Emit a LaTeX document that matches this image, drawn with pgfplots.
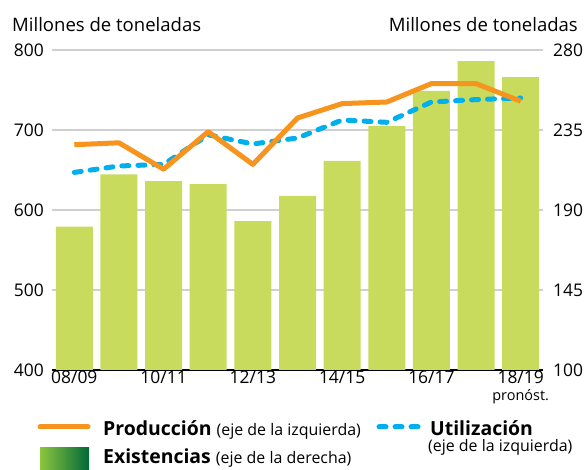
\documentclass[border=0pt]{standalone}
\usepackage{pgfplots}
\pgfplotsset{compat=1.18}
\usepackage{fontspec}
\setmainfont{Open Sans}
\definecolor{barg}{RGB}{200,219,92}
\definecolor{orng}{RGB}{247,148,29}
\definecolor{blu}{RGB}{0,176,236}
\definecolor{gridg}{RGB}{208,208,208}
\definecolor{dgA}{RGB}{141,198,63}
\definecolor{dgB}{RGB}{0,104,56}
\newcommand{\tickfont}{\fontsize{17.5}{19}\selectfont}
\newcommand{\titlefont}{\fontsize{18.6}{21}\selectfont}
\newcommand{\pronfont}{\fontsize{14.5}{15}\selectfont}
\newcommand{\legbold}{\fontsize{19.5}{22}\selectfont\bfseries}
\newcommand{\legsmall}{\fontsize{16}{18}\selectfont\mdseries}
\begin{document}
\begin{tikzpicture}
\useasboundingbox (0,0) rectangle (587bp,470bp);
% Bars: stocks (right axis)
\begin{axis}[
  at={(52bp,100bp)}, anchor=south west,
  scale only axis, width=491bp, height=320bp,
  xmin=-0.5, xmax=10.5, ymin=100, ymax=280,
  ytick={100,145,190,235,280},
  axis y line*=right, axis x line*=bottom,
  x axis line style={line width=2.5bp, black, -},
  y axis line style={draw=none},
  xtick={0,2,4,6,8,10},
  xticklabels={08/09,10/11,12/13,14/15,16/17,{18/19\\[-2bp]{\pronfont pronóst.}}},
  xticklabel style={align=center, font=\tickfont, inner sep=1bp},
  yticklabel style={font=\tickfont, inner sep=0pt, xshift=10bp},
  major tick length=0pt,
  ymajorgrids, grid style={gridg, line width=1.3bp},
  /pgf/number format/assume math mode=true,
  clip=true,
]
\addplot[ybar, bar width=37bp, fill=barg, draw=none] coordinates {
 (0,180.6) (1,210) (2,206.3) (3,204.6) (4,183.8) (5,197.9)
 (6,217.6) (7,237.3) (8,257) (9,273.8) (10,264.8)};
\end{axis}
% Lines: production and utilization (left axis)
\begin{axis}[
  at={(52bp,100bp)}, anchor=south west,
  scale only axis, width=491bp, height=320bp,
  xmin=-0.5, xmax=10.5, ymin=400, ymax=800,
  ytick={400,500,600,700,800},
  axis y line*=left, axis x line=none,
  y axis line style={draw=none},
  yticklabel style={font=\tickfont, inner sep=0pt, xshift=-8bp},
  major tick length=0pt,
  /pgf/number format/assume math mode=true,
  clip=false,
]
\addplot[blu, line width=5bp, dash pattern=on 7bp off 9bp, line cap=round, line join=round] coordinates {
 (0,647) (1,655) (2,657) (3,694) (4,682.5) (5,690)
 (6,712.5) (7,709.6) (8,735) (9,738) (10,740)};
\addplot[orng, line width=5bp, line join=round] coordinates {
 (0,681.6) (1,684) (2,651) (3,697.9) (4,657) (5,715)
 (6,733) (7,735) (8,758) (9,758) (10,736)};
\end{axis}
% Axis titles
\node[anchor=base west, inner sep=0pt, font=\titlefont] at (12bp,438.5bp) {Millones de toneladas};
\node[anchor=base east, inner sep=0pt, font=\titlefont] at (578bp,438.5bp) {Millones de toneladas};
% Legend
\draw[orng, line width=5bp, line cap=round] (40bp,43bp) -- (88bp,43bp);
\node[anchor=base west, inner sep=0pt] at (103bp,35bp) {\legbold Producción \legsmall(eje de la izquierda)};
\draw[blu, line width=5bp, line cap=round, dash pattern=on 7bp off 9bp] (379bp,43bp) -- (419bp,43bp);
\node[anchor=base west, inner sep=0pt] at (430bp,35bp) {\legbold Utilización};
\node[anchor=base west, inner sep=0pt] at (428bp,19bp) {\legsmall (eje de la izquierda)};
\shade[left color=dgA, right color=dgB] (40bp,0bp) rectangle (89bp,22bp);
\node[anchor=base west, inner sep=0pt] at (103bp,7bp) {\legbold Existencias \legsmall(eje de la derecha)};
\end{tikzpicture}
\end{document}
